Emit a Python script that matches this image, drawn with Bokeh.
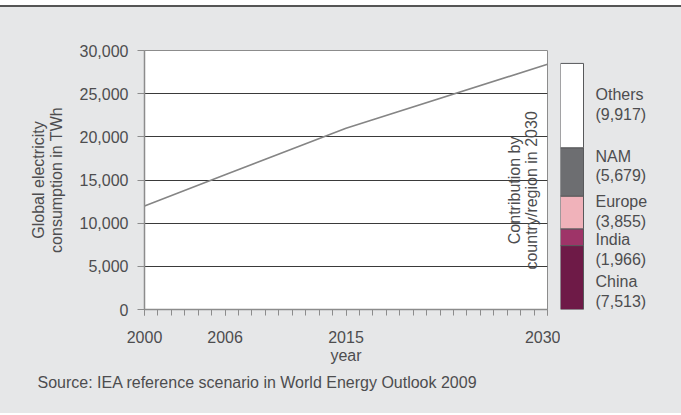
import numpy as np
from bokeh.plotting import figure
from bokeh.layouts import row
from bokeh.models import FixedTicker, Range1d, Title, NumeralTickFormatter, ColumnDataSource
from bokeh.core.properties import value
from bokeh.embed import file_html
from bokeh.resources import INLINE

# ---- data ----
years = [2000, 2006, 2015, 2030]
consumption = [12000, 15600, 21000, 28400]
x_tick_years = [2000, 2006, 2015, 2030]
y_ticks = [0, 5000, 10000, 15000, 20000, 25000, 30000]
regions = ["China", "India", "Europe", "NAM", "Others"]
contrib_2030 = [7513, 1966, 3855, 5679, 9917]

# ---- style ----
FONT = "Liberation Sans"
BG = "#e6e7e8"
TXT = "#4d4d4f"
AXIS = "#8c8c8c"
region_colors = ["#6e1a47", "#9e3468", "#f0b2ba", "#6d6e71", "#ffffff"]
label_offsets = [14, 12, -1, -6, -1]

# ---- main plot ----
p = figure(width=560, height=406, x_range=Range1d(2000, 2030), y_range=Range1d(0, 30000),
           output_backend="svg", toolbar_location=None,
           min_border_left=144, min_border_right=13, min_border_top=43, min_border_bottom=104,
           background_fill_color="white", border_fill_color=BG,
           outline_line_color=AXIS, outline_line_width=1)

p.line(years, consumption, line_color="#858585", line_width=1.6)

p.xaxis.ticker = FixedTicker(ticks=x_tick_years, minor_ticks=list(range(2000, 2031)))
p.xaxis.axis_label = "year"
p.xaxis.major_tick_in = 0
p.xaxis.major_tick_out = 6
p.xaxis.minor_tick_in = 0
p.xaxis.minor_tick_out = 6
p.xaxis.major_label_standoff = 15
p.xaxis.axis_label_standoff = 1

p.yaxis.ticker = FixedTicker(ticks=y_ticks, minor_ticks=[])
p.yaxis.formatter = NumeralTickFormatter(format="0,0")
p.yaxis.axis_label = "Global electricity\nconsumption in TWh"
p.yaxis.major_tick_in = 0
p.yaxis.major_tick_out = 7
p.yaxis.major_label_standoff = 9
p.yaxis.axis_label_standoff = 12
p.yaxis.axis_label_text_line_height = 1.06

for ax in (p.xaxis, p.yaxis):
    ax.axis_line_color = AXIS
    ax.axis_line_width = 1.5
    ax.major_tick_line_color = AXIS
    ax.minor_tick_line_color = AXIS
    ax.major_label_text_font = FONT
    ax.major_label_text_font_size = "16px"
    ax.major_label_text_color = TXT
    ax.axis_label_text_font = FONT
    ax.axis_label_text_font_size = "16px"
    ax.axis_label_text_color = TXT
    ax.axis_label_text_font_style = "normal"

p.xgrid.visible = False
p.ygrid.ticker = FixedTicker(ticks=y_ticks)
p.ygrid.grid_line_color = "#3a3a3a"
p.ygrid.grid_line_width = 1

p.text(x=[2028.2], y=[13800], text=["Contribution by\ncountry/region in 2030"],
       angle=np.pi / 2, text_align="center", text_baseline="middle",
       text_font=value(FONT), text_font_size="16px", text_color=TXT, text_line_height=1.0)

p.add_layout(Title(text="Source: IEA reference scenario in World Energy Outlook 2009",
                   align="left", offset=-107, text_font=FONT, text_font_size="16px",
                   text_font_style="normal", text_color=TXT, standoff=10), "below")

# ---- side stacked bar ----
tops = list(np.cumsum(contrib_2030))
bottoms = [0] + tops[:-1]
mids = [(b + t) / 2 for b, t in zip(bottoms, tops)]
labels = [f"{r}\n({v:,})" for r, v in zip(regions, contrib_2030)]
src = ColumnDataSource(dict(bottom=bottoms, top=tops, mid=mids, color=region_colors,
                            label=labels, off=label_offsets))

s = figure(width=121, height=406, x_range=Range1d(0, 121), y_range=Range1d(0, 30450),
           output_backend="svg", toolbar_location=None, x_axis_type=None, y_axis_type=None,
           min_border_left=0, min_border_right=0, min_border_top=43, min_border_bottom=104,
           background_fill_color=BG, border_fill_color=BG, outline_line_color=None)
s.xgrid.visible = False
s.ygrid.visible = False
s.vbar(x=11.5, width=23, bottom="bottom", top="top", fill_color="color",
       line_color="#58595b", line_width=1, source=src)
s.text(x=35, y="mid", text="label", y_offset="off", text_baseline="middle", text_align="left",
       text_font=value(FONT), text_font_size="16px", text_color=TXT, text_line_height=1.16,
       source=src)

layout = row(p, s, margin=(5, 0, 0, 0),
             styles={"background-color": BG, "border-top": "2px solid #555555"})
open("out.html", "w").write(file_html(layout, INLINE))
